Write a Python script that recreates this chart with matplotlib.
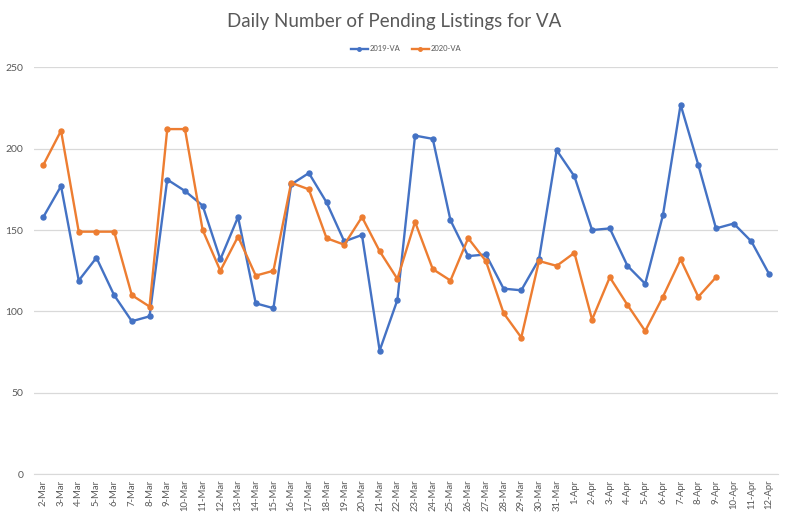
import matplotlib
matplotlib.use("Agg")
import matplotlib.pyplot as plt

plt.rcParams['font.family'] = ['Lato', 'DejaVu Sans']

# 日期标签
dates = ['2-Mar', '3-Mar', '4-Mar', '5-Mar', '6-Mar', '7-Mar', '8-Mar', '9-Mar',
         '10-Mar', '11-Mar', '12-Mar', '13-Mar', '14-Mar', '15-Mar', '16-Mar',
         '17-Mar', '18-Mar', '19-Mar', '20-Mar', '21-Mar', '22-Mar', '23-Mar',
         '24-Mar', '25-Mar', '26-Mar', '27-Mar', '28-Mar', '29-Mar', '30-Mar',
         '31-Mar', '1-Apr', '2-Apr', '3-Apr', '4-Apr', '5-Apr', '6-Apr', '7-Apr',
         '8-Apr', '9-Apr', '10-Apr', '11-Apr', '12-Apr']

va_2019 = [158, 177, 119, 133, 110, 94, 97, 181, 174, 165, 132, 158, 105, 102,
           178, 185, 167, 143, 147, 76, 107, 208, 206, 156, 134, 135, 114, 113,
           132, 199, 183, 150, 151, 128, 117, 159, 227, 190, 151, 154, 143, 123]

va_2020 = [190, 211, 149, 149, 149, 110, 103, 212, 212, 150, 125, 146, 122, 125,
           179, 175, 145, 141, 158, 137, 120, 155, 126, 119, 145, 131, 99, 84,
           131, 128, 136, 95, 121, 104, 88, 109, 132, 109, 121]

blue = '#4472C4'
orange = '#ED7D31'
grey = '#595959'

fig = plt.figure(figsize=(7.89, 5.17), dpi=100)
ax = fig.add_axes([0.0437, 0.0826, 0.9423, 0.7874])

x19 = list(range(len(va_2019)))
x20 = list(range(len(va_2020)))
ax.plot(x19, va_2019, color=blue, lw=1.7, marker='o', ms=3.6, label='2019-VA')
ax.plot(x20, va_2020, color=orange, lw=1.7, marker='o', ms=3.6, label='2020-VA')

ax.set_xlim(-0.5, len(dates) - 0.5)
ax.set_ylim(0, 250)
ax.set_yticks(range(0, 251, 50))
ax.set_xticks(range(len(dates)))
ax.set_xticklabels(dates, rotation=90, fontsize=6.8, color=grey)
ax.tick_params(axis='y', labelsize=7.5, labelcolor=grey, length=0, pad=8)
ax.tick_params(axis='x', length=0, pad=4)
ax.grid(axis='y', color='#D9D9D9', lw=0.9)
ax.set_axisbelow(True)
for s in ['top', 'right', 'left']:
    ax.spines[s].set_visible(False)
ax.spines['bottom'].set_color('#D9D9D9')

fig.text(0.5, 0.958, 'Daily Number of Pending Listings for VA', ha='center',
         va='center', fontsize=13.5, color=grey)
ax.legend(loc='center', bbox_to_anchor=(0.5, 1.045), ncol=2, frameon=False,
          fontsize=5.5, labelcolor=grey, handlelength=2.2, markerscale=0.7,
          columnspacing=1.5, handletextpad=0.3)

fig.savefig('out.png', dpi=100)
